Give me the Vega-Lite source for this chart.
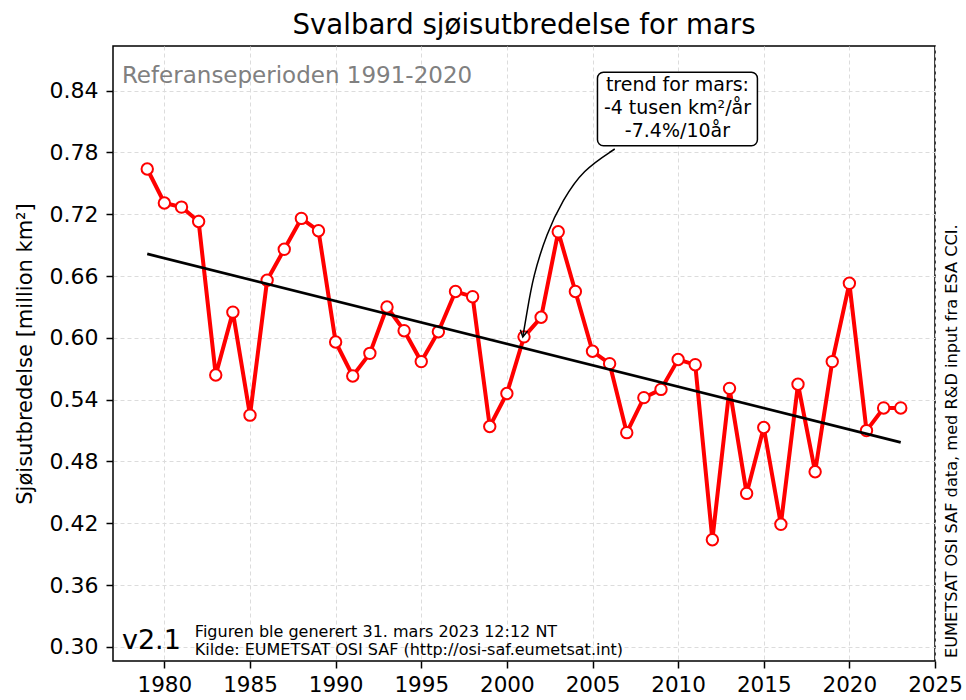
{
  "$schema": "https://vega.github.io/schema/vega-lite/v6.json",
  "width": 822,
  "height": 615,
  "autosize": {"type": "none"},
  "padding": {"left": 113, "top": 46, "right": 31, "bottom": 39},
  "background": "white",
  "config": {
    "font": "DejaVu Sans",
    "view": {"stroke": "black", "strokeWidth": 1.5},
    "axis": {
      "domain": false,
      "tickColor": "black",
      "tickWidth": 1.5,
      "tickSize": 7,
      "labelColor": "black",
      "labelFontSize": 21.5,
      "grid": true,
      "gridColor": "#dcdcdc",
      "gridDash": [4, 3],
      "gridWidth": 1
    }
  },
  "title": {
    "text": "Svalbard sjøisutbredelse for mars",
    "fontSize": 27.6,
    "fontWeight": "normal",
    "color": "black",
    "offset": 6,
    "anchor": "middle"
  },
  "datasets": {
    "ice": [
      {"year": 1979, "value": 0.764}, {"year": 1980, "value": 0.731}, {"year": 1981, "value": 0.727},
      {"year": 1982, "value": 0.713}, {"year": 1983, "value": 0.564}, {"year": 1984, "value": 0.625},
      {"year": 1985, "value": 0.525}, {"year": 1986, "value": 0.656}, {"year": 1987, "value": 0.686},
      {"year": 1988, "value": 0.716}, {"year": 1989, "value": 0.704}, {"year": 1990, "value": 0.596},
      {"year": 1991, "value": 0.563}, {"year": 1992, "value": 0.585}, {"year": 1993, "value": 0.630},
      {"year": 1994, "value": 0.607}, {"year": 1995, "value": 0.577}, {"year": 1996, "value": 0.606},
      {"year": 1997, "value": 0.645}, {"year": 1998, "value": 0.640}, {"year": 1999, "value": 0.514},
      {"year": 2000, "value": 0.546}, {"year": 2001, "value": 0.601}, {"year": 2002, "value": 0.620},
      {"year": 2003, "value": 0.703}, {"year": 2004, "value": 0.645}, {"year": 2005, "value": 0.587},
      {"year": 2006, "value": 0.575}, {"year": 2007, "value": 0.508}, {"year": 2008, "value": 0.542},
      {"year": 2009, "value": 0.550}, {"year": 2010, "value": 0.579}, {"year": 2011, "value": 0.574},
      {"year": 2012, "value": 0.404}, {"year": 2013, "value": 0.551}, {"year": 2014, "value": 0.449},
      {"year": 2015, "value": 0.513}, {"year": 2016, "value": 0.419}, {"year": 2017, "value": 0.555},
      {"year": 2018, "value": 0.470}, {"year": 2019, "value": 0.577}, {"year": 2020, "value": 0.653},
      {"year": 2021, "value": 0.510}, {"year": 2022, "value": 0.532}, {"year": 2023, "value": 0.532}
    ],
    "trend": [
      {"year": 1979, "value": 0.6815}, {"year": 2023, "value": 0.4986}
    ],
    "arrow": [
      {"step": 1, "year": 2006.30, "value": 0.7834},
      {"step": 2, "year": 2004.43, "value": 0.7630},
      {"step": 3, "year": 2003.27, "value": 0.7339},
      {"step": 4, "year": 2002.33, "value": 0.7019},
      {"step": 5, "year": 2001.52, "value": 0.6591},
      {"step": 6, "year": 2001.17, "value": 0.6242},
      {"step": 7, "year": 2000.93, "value": 0.6009}
    ],
    "arrowtip": [{"year": 2000.93, "value": 0.6009}],
    "box": [{"year": 2005.29, "year2": 2014.63, "value": 0.8579, "value2": 0.7866}],
    "boxtext": [{"year": 2009.96, "value": 0.84, "label": ["trend for mars:", "-4 tusen km²/år", "-7.4%/10år"]}],
    "ref": [{"year": 1977.52, "value": 0.8472, "label": "Referanseperioden 1991-2020"}],
    "version": [{"year": 1977.52, "value": 0.298, "label": "v2.1"}],
    "footer": [
      {"year": 1981.78, "value": 0.3096, "label": "Figuren ble generert 31. mars 2023 12:12 NT"},
      {"year": 1981.78, "value": 0.2921, "label": "Kilde: EUMETSAT OSI SAF (http://osi-saf.eumetsat.int)"}
    ],
    "side": [{"year": 2026.0, "value": 0.2892, "label": "EUMETSAT OSI SAF data, med R&D input fra ESA CCI."}]
  },
  "encoding": {
    "x": {
      "field": "year",
      "type": "quantitative",
      "scale": {"domain": [1977, 2025], "nice": false, "zero": false},
      "axis": {"title": null, "values": [1980, 1985, 1990, 1995, 2000, 2005, 2010, 2015, 2020, 2025], "format": "d", "labelPadding": 6, "labelFlush": false}
    },
    "y": {
      "field": "value",
      "type": "quantitative",
      "scale": {"domain": [0.2863, 0.8834], "nice": false, "zero": false},
      "axis": {
        "title": "Sjøisutbredelse [million km²]",
        "titleFontSize": 21,
        "titleFontWeight": "normal",
        "titleColor": "black",
        "titlePadding": 14,
        "values": [0.30, 0.36, 0.42, 0.48, 0.54, 0.60, 0.66, 0.72, 0.78, 0.84],
        "format": ".2f",
        "labelPadding": 8,
        "labelFontSize": 22
      }
    }
  },
  "layer": [
    {
      "data": {"name": "ice"},
      "mark": {"type": "line", "color": "#ff0000", "strokeWidth": 4}
    },
    {
      "data": {"name": "ice"},
      "mark": {"type": "point", "filled": true, "fill": "white", "stroke": "#ff0000", "strokeWidth": 2, "size": 130, "opacity": 1}
    },
    {
      "data": {"name": "trend"},
      "mark": {"type": "line", "color": "black", "strokeWidth": 2.8}
    },
    {
      "data": {"name": "arrow"},
      "mark": {"type": "line", "color": "black", "strokeWidth": 1.5, "interpolate": "basis"},
      "encoding": {"order": {"field": "step", "type": "quantitative"}}
    },
    {
      "data": {"name": "arrowtip"},
      "mark": {"type": "point", "shape": "M-0.55,-1L0,0L0.55,-1", "filled": false, "stroke": "black", "strokeWidth": 1.5, "size": 180, "angle": 10, "opacity": 1}
    },
    {
      "data": {"name": "box"},
      "mark": {"type": "rect", "fill": "white", "stroke": "black", "strokeWidth": 1.5, "cornerRadius": 6},
      "encoding": {
        "x2": {"field": "year2"},
        "y2": {"field": "value2"}
      }
    },
    {
      "data": {"name": "boxtext"},
      "mark": {"type": "text", "fontSize": 19, "align": "center", "baseline": "alphabetic", "lineHeight": 23, "color": "black"},
      "encoding": {"text": {"field": "label"}}
    },
    {
      "data": {"name": "ref"},
      "mark": {"type": "text", "fontSize": 23, "align": "left", "baseline": "alphabetic", "color": "#808080"},
      "encoding": {"text": {"field": "label"}}
    },
    {
      "data": {"name": "version"},
      "mark": {"type": "text", "fontSize": 27, "align": "left", "baseline": "alphabetic", "color": "black"},
      "encoding": {"text": {"field": "label"}}
    },
    {
      "data": {"name": "footer"},
      "mark": {"type": "text", "fontSize": 16, "align": "left", "baseline": "alphabetic", "color": "black"},
      "encoding": {"text": {"field": "label"}}
    },
    {
      "data": {"name": "side"},
      "mark": {"type": "text", "fontSize": 16.2, "align": "left", "baseline": "middle", "angle": 270, "color": "black"},
      "encoding": {"text": {"field": "label"}}
    }
  ]
}
